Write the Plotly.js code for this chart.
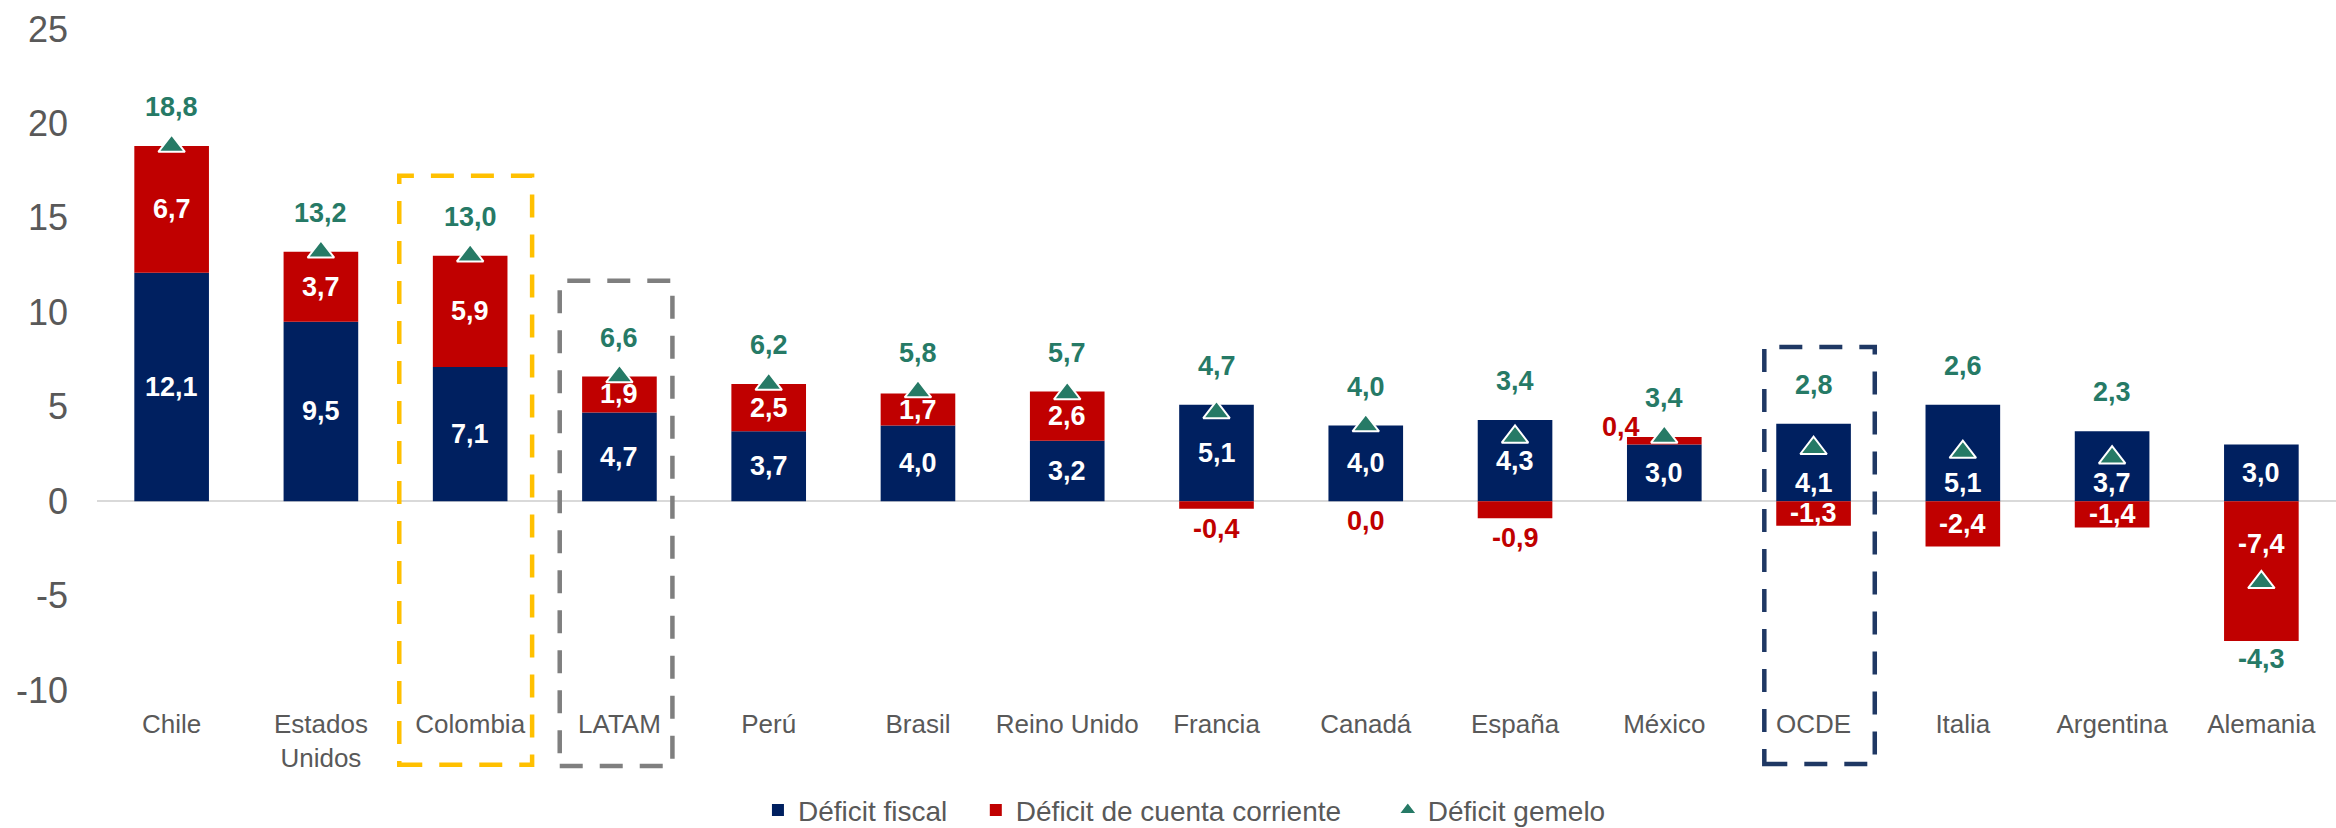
<!DOCTYPE html>
<html>
<head>
<meta charset="utf-8">
<script src="https://cdn.plot.ly/plotly-3.0.1.min.js"></script>
<style>html,body{margin:0;padding:0;background:#fff;}#chart{width:2336px;height:828px;}</style>
</head>
<body>
<div id="chart"></div>
<script>
const categories = ['Chile','Estados<br>Unidos','Colombia','LATAM','Perú','Brasil','Reino Unido','Francia','Canadá','España','México','OCDE','Italia','Argentina','Alemania'];
const deficitFiscal = [12.1, 9.5, 7.1, 4.7, 3.7, 4.0, 3.2, 5.1, 4.0, 4.3, 3.0, 4.1, 5.1, 3.7, 3.0];
const deficitCuentaCorriente = [6.7, 3.7, 5.9, 1.9, 2.5, 1.7, 2.6, -0.4, 0.0, -0.9, 0.4, -1.3, -2.4, -1.4, -7.4];
const deficitGemelo = [18.8, 13.2, 13.0, 6.6, 6.2, 5.8, 5.7, 4.7, 4.0, 3.4, 3.4, 2.8, 2.6, 2.3, -4.3];
const seriesNames = ['Déficit fiscal', 'Déficit de cuenta corriente', 'Déficit gemelo'];
const yTickValues = [-10, -5, 0, 5, 10, 15, 20, 25];
const yTickLabels = ['-10', '-5', '0', '5', '10', '15', '20', '25'];

const BLUE = '#002060', RED = '#C00000', GREEN = '#267A66', GRAY = '#595959';
const FONT = 'Arial, "Liberation Sans", sans-serif';
const fmt = v => v.toFixed(1).replace('.', ',');

const traces = [
  {type: 'bar', name: seriesNames[0], x: categories, y: deficitFiscal, legend: 'legend',
   marker: {color: BLUE}, hoverinfo: 'skip'},
  {type: 'bar', name: seriesNames[1], x: categories, y: deficitCuentaCorriente, legend: 'legend2',
   marker: {color: RED}, hoverinfo: 'skip'},
  {type: 'scatter', mode: 'markers', name: seriesNames[2], x: categories, y: deficitGemelo, legend: 'legend3',
   marker: {symbol: 'triangle-up', size: 23, color: GREEN, line: {color: '#ffffff', width: 2}},
   hoverinfo: 'skip'}
];

const annotations = [];
const lblFont = (c) => ({family: FONT, size: 27, color: c, weight: 'bold'});
const near = (a, b) => Math.abs(a - b) < 0.8;

categories.forEach((c, i) => {
  const f = deficitFiscal[i], ca = deficitCuentaCorriente[i], g = deficitGemelo[i];
  const posTop = Math.max(0, f) + Math.max(0, ca);
  const negBottom = Math.min(0, f) + Math.min(0, ca);
  // fiscal label
  if (near(g, f / 2)) {
    annotations.push({x: c, y: 0, yanchor: 'bottom', yshift: 1, text: fmt(f), showarrow: false, font: lblFont('#ffffff')});
  } else {
    annotations.push({x: c, y: f / 2, yanchor: 'middle', text: fmt(f), showarrow: false, font: lblFont('#ffffff')});
  }
  // current account label
  if (Math.abs(ca) < 1) {
    if (ca > 0) {
      annotations.push({x: c, y: posTop, yanchor: 'middle', xshift: -43, yshift: 10, text: fmt(ca), showarrow: false, font: lblFont(RED)});
    } else {
      annotations.push({x: c, y: ca, yanchor: 'top', yshift: -3, text: fmt(ca), showarrow: false, font: lblFont(RED)});
    }
  } else {
    const mid = ca > 0 ? f + ca / 2 : ca / 2;
    if (near(g, mid)) {
      annotations.push({x: c, y: g, yanchor: 'middle', yshift: 38, text: fmt(ca), showarrow: false, font: lblFont('#ffffff')});
    } else {
      annotations.push({x: c, y: mid, yanchor: 'middle', text: fmt(ca), showarrow: false, font: lblFont('#ffffff')});
    }
  }
  // twin deficit label
  if (g >= 0) {
    annotations.push({x: c, y: Math.max(posTop, g), yanchor: 'middle', yshift: 39, text: fmt(g), showarrow: false, font: lblFont(GREEN)});
  } else {
    annotations.push({x: c, y: negBottom, yanchor: 'top', yshift: -1, text: fmt(g), showarrow: false, font: lblFont(GREEN)});
  }
});

const box = (idx, dl, dr, top, bottom, color) => ({
  type: 'rect', xref: 'x', yref: 'paper',
  x0: idx + dl, x1: idx + dr, y0: bottom, y1: top,
  line: {color: color, width: 4.5, dash: '23px,17px'}, fillcolor: 'rgba(0,0,0,0)', layer: 'above'
});

const shapes = [
  box(categories.indexOf('Colombia'), -0.475, 0.415, 0.778, -0.113, '#FFC000'),
  box(categories.indexOf('LATAM'), -0.40, 0.355, 0.619, -0.115, '#7F7F7F'),
  box(categories.indexOf('OCDE'), -0.33, 0.41, 0.519, -0.112, '#1F3864')
];

const legendStyle = (x) => ({orientation: 'h', x: x, xanchor: 'left', y: -0.182, yanchor: 'middle',
  font: {family: FONT, size: 28, color: GRAY}, bgcolor: 'rgba(0,0,0,0)'});

const layout = {
  width: 2336, height: 828,
  margin: {l: 97, r: 0, t: 29, b: 138, autoexpand: false},
  paper_bgcolor: '#ffffff', plot_bgcolor: '#ffffff',
  barmode: 'relative', bargap: 0.5,
  font: {family: FONT, color: GRAY},
  showlegend: true,
  legend: legendStyle(0.2952),
  legend2: legendStyle(0.3925),
  legend3: legendStyle(0.5765),
  xaxis: {type: 'category', range: [-0.5, categories.length - 0.5], autorange: false,
          showgrid: false, showline: false, zeroline: false, ticks: '', automargin: false,
          tickfont: {family: FONT, size: 26, color: GRAY}, ticklabelstandoff: 16, fixedrange: true},
  yaxis: {range: [-10, 25], autorange: false, tickmode: 'array', tickvals: yTickValues, ticktext: yTickLabels,
          showgrid: false, showline: false, automargin: false,
          zeroline: true, zerolinecolor: '#D9D9D9', zerolinewidth: 2, ticks: '',
          tickfont: {family: FONT, size: 36, color: GRAY}, ticklabelstandoff: 28, fixedrange: true},
  annotations: annotations,
  shapes: shapes
};

Plotly.newPlot('chart', traces, layout, {displayModeBar: false, staticPlot: true});
</script>
</body>
</html>
